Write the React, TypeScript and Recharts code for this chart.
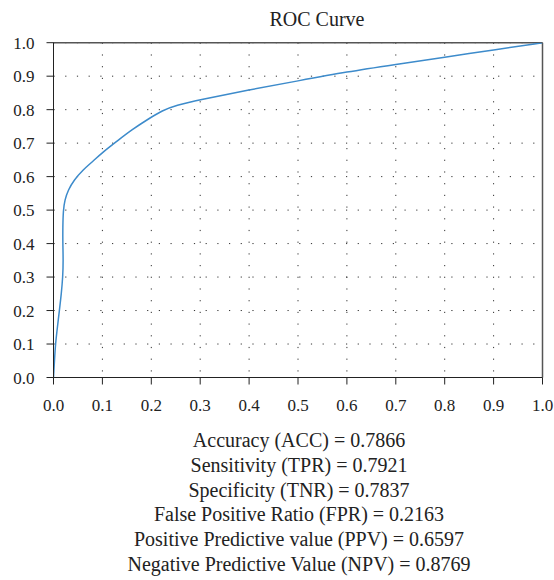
import {
  CartesianGrid,
  Line,
  LineChart,
  ReferenceLine,
  XAxis,
  YAxis,
} from "recharts";

// ROC curve points
const fpr = [
  0, 0.002, 0.004, 0.008, 0.012, 0.016, 0.019, 0.02, 0.019, 0.019, 0.02, 0.023,
  0.03, 0.042, 0.06, 0.08, 0.1, 0.13, 0.16, 0.197, 0.222, 0.25, 0.3, 0.4, 0.5,
  0.6, 0.7, 0.8, 0.9, 1,
];
const tpr = [
  0, 0.05, 0.1, 0.15, 0.2, 0.25, 0.3, 0.35, 0.4, 0.45, 0.5, 0.53, 0.56, 0.59,
  0.62, 0.645, 0.672, 0.706, 0.74, 0.775, 0.797, 0.813, 0.83, 0.859, 0.886,
  0.913, 0.935, 0.957, 0.978, 1,
];
const ticks = [0, 0.1, 0.2, 0.3, 0.4, 0.5, 0.6, 0.7, 0.8, 0.9, 1];

const metrics = [
  "Accuracy (ACC) = 0.7866",
  "Sensitivity (TPR) = 0.7921",
  "Specificity (TNR) = 0.7837",
  "False Positive Ratio (FPR) = 0.2163",
  "Positive Predictive value (PPV) = 0.6597",
  "Negative Predictive Value (NPV) = 0.8769",
];

const font = "'Liberation Serif', serif";

const css = `
#root svg text, #root .recharts-wrapper text, #root .recharts-text {
  font-family: 'Liberation Serif', serif !important;
}
`;

const XTick = (props: any) => {
  const { x, y, payload } = props;
  return (
    <text
      x={x}
      y={y}
      dy="0.71em"
      textAnchor="middle"
      fill="#222"
      fontFamily={font}
      fontSize={17}
    >
      {Number(payload.value).toFixed(1)}
    </text>
  );
};

const YTick = (props: any) => {
  const { x, y, payload } = props;
  return (
    <text
      x={x}
      y={y}
      dy="0.355em"
      textAnchor="end"
      fill="#222"
      fontFamily={font}
      fontSize={17}
    >
      {Number(payload.value).toFixed(1)}
    </text>
  );
};

const App = () => {
  const data = fpr.map((x, i) => ({ x, y: tpr[i] }));
  return (
    <div
      style={{
        position: "absolute",
        left: 0,
        top: 0,
        width: 554,
        height: 580,
        background: "#fff",
        fontFamily: font,
        color: "#222",
      }}
    >
      <style>{css}</style>
      <div
        style={{
          position: "absolute",
          left: 0,
          width: 634,
          top: 4,
          textAlign: "center",
          fontSize: 20,
          lineHeight: "30px",
        }}
      >
        ROC Curve
      </div>
      <LineChart
        width={554}
        height={420}
        data={data}
        margin={{ top: 42.7, right: 11.5, left: 0, bottom: 12.5 }}
      >
        <CartesianGrid stroke="#333" strokeDasharray="1.2 10.5" />
        <XAxis
          dataKey="x"
          type="number"
          domain={[0, 1]}
          ticks={ticks}
          height={30}
          stroke="#222"
          tickSize={7}
          tickMargin={14}
          tick={<XTick />}
          allowDataOverflow
        />
        <YAxis
          type="number"
          domain={[0, 1]}
          ticks={ticks}
          width={53.5}
          stroke="#222"
          tickSize={7}
          tickMargin={12}
          tick={<YTick />}
          allowDataOverflow
        />
        <ReferenceLine y={1} stroke="#555" strokeWidth={1.5} />
        <ReferenceLine x={1} stroke="#555" strokeWidth={1.5} />
        <Line
          dataKey="y"
          type="basis"
          stroke="#3d8bcb"
          strokeWidth={1.5}
          dot={false}
          isAnimationActive={false}
        />
      </LineChart>
      <div
        style={{
          position: "absolute",
          left: 0,
          width: 598,
          top: 428,
          textAlign: "center",
          fontSize: 20,
          lineHeight: "24.8px",
        }}
      >
        {metrics.map((m) => (
          <div key={m}>{m}</div>
        ))}
      </div>
    </div>
  );
};

export default App;
